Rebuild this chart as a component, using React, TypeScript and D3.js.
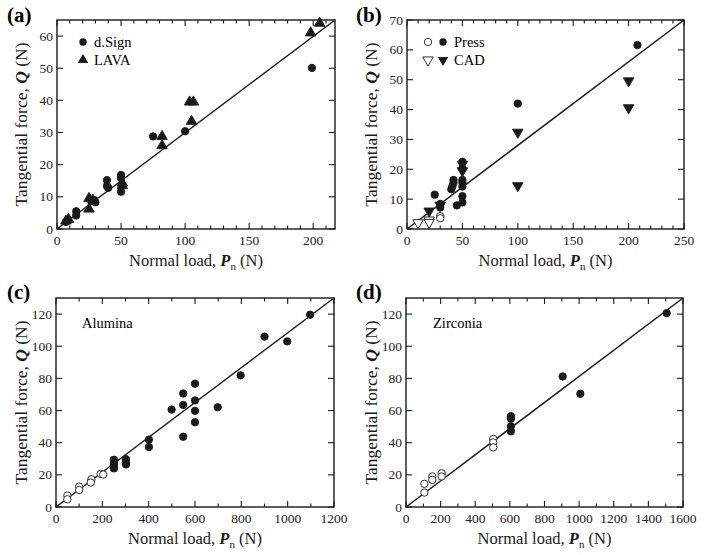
import React from 'react';
import * as d3 from 'd3';

type Pt = [number, number];

// Panel (a)
const aDSign: Pt[] = [[7,2.2],[15,5.5],[15,4.2],[27,8.8],[30,8.3],[29,9],[39,15.2],[39,13.4],[40,12.8],[50,16.8],[50,15.8],[50,11.6],[75,28.8],[100,30.4],[199,50.1]];
const aLava: Pt[] = [[7,2.5],[9,3],[25,9.5],[25,6.2],[28,9],[51,14.3],[51,13.5],[82,28.8],[82,25.9],[103.5,39.5],[106.5,39.5],[105,33.5],[198,61],[205,64]];
// Panel (b)
const bPressOpen: Pt[] = [[30,4.3],[30,3.6]];
const bPressFilled: Pt[] = [[25,11.5],[30,8.4],[30,7.2],[40,13.3],[41,14.4],[42,16.4],[42,15.5],[45,7.9],[50,22.5],[50,20.3],[50,16.4],[50,15.5],[50,14.2],[50,11],[50,8.9],[100,42],[208,61.6]];
const bCadOpen: Pt[] = [[10,2.1],[20,3],[20,2.2]];
const bCadFilled: Pt[] = [[20,6],[30,8],[50,21.7],[50,19.5],[100,32.4],[100,14.5],[200,49.6],[200,40.6]];
// Panel (c) Alumina
const cOpen: Pt[] = [[49,7.1],[49,4.8],[100,12.7],[100,10.6],[153,17.3],[150,15.2],[193,20.6],[204,20.2]];
const cFilled: Pt[] = [[250,29.4],[250,27.3],[250,25.6],[250,24],[302,29.8],[302,27.7],[302,26.5],[401,41.9],[401,37.3],[499,60.6],[549,70.6],[549,63.5],[549,43.7],[600,76.7],[600,66.3],[600,59.8],[600,52.7],[698,62],[797,81.9],[900,106],[998,103],[1097,119.6]];
// Panel (d) Zirconia
const dOpen: Pt[] = [[106,14.4],[106,9],[152,19],[152,16.9],[206,21],[206,19],[504,42.3],[504,40.2],[504,37.1]];
const dFilled: Pt[] = [[606,56.5],[606,55],[606,50.2],[606,47.1],[905,81.2],[1007,70.4],[1506,120.6]];

const aXLabels = [0, 50, 100, 150, 200];
const aYLabels = [0, 10, 20, 30, 40, 50, 60];
const bXLabels = [0, 50, 100, 150, 200, 250];
const bYLabels = [0, 10, 20, 30, 40, 50, 60, 70];
const cXLabels = [0, 200, 400, 600, 800, 1000, 1200];
const cdYLabels = [0, 20, 40, 60, 80, 100, 120];
const dXLabels = [0, 200, 400, 600, 800, 1000, 1200, 1400, 1600];

const FONT = "Liberation Serif, DejaVu Serif, serif";

type Series = { pts: Pt[]; shape: 'circle' | 'up' | 'down'; filled: boolean };

type PanelCfg = {
  tag: string;
  left: number; right: number; top: number; bottom: number;
  xMax: number; yMax: number;
  xMinorStep: number; xMajorStep: number;
  xLabels: number[]; yLabels: number[];
  series: Series[];
  legend?: React.ReactNode;
  tagX: number; tagY: number; yTitleX: number;
};

const triUp = d3.symbol().type(d3.symbolTriangle).size(48)() as string;
const INK = '#1a1a1a';

function Marker({ x, y, s }: { x: number; y: number; s: Series }) {
  const fill = s.filled ? INK : '#fff';
  if (s.shape === 'circle') return <circle cx={x} cy={y} r={3.7} fill={fill} stroke={INK} strokeWidth={0.9} />;
  const rot = s.shape === 'down' ? 180 : 0;
  return <path d={triUp} transform={`translate(${x},${y}) rotate(${rot})`} fill={fill} stroke={INK} strokeWidth={0.9} />;
}

function Panel({ p }: { p: PanelCfg }) {
  const x = d3.scaleLinear().domain([0, p.xMax]).range([p.left, p.right]);
  const y = d3.scaleLinear().domain([0, p.yMax]).range([p.bottom, p.top]);
  const xTicks = d3.range(0, p.xMax + 1e-6, p.xMinorStep);
  const yTicks = p.yLabels;
  const cy = (p.top + p.bottom) / 2;
  const cx = (p.left + p.right) / 2;
  return (
    <g>
      <text x={p.tagX} y={p.tagY} fontWeight="bold" fontSize={21}>{p.tag}</text>
      {xTicks.map((t, i) => {
        const major = Math.abs(t / p.xMajorStep - Math.round(t / p.xMajorStep)) < 1e-6;
        const len = major ? 6 : 3.5;
        return (
          <g key={'xt' + i}>
            <line x1={x(t)} x2={x(t)} y1={p.bottom} y2={p.bottom - len} stroke={INK} strokeWidth={1.1} />
            <line x1={x(t)} x2={x(t)} y1={p.top} y2={p.top + len} stroke={INK} strokeWidth={1.1} />
          </g>
        );
      })}
      {yTicks.map((t, i) => (
        <g key={'yt' + i}>
          <line x1={p.left} x2={p.left + 6} y1={y(t)} y2={y(t)} stroke={INK} strokeWidth={1.1} />
          <line x1={p.right} x2={p.right - 6} y1={y(t)} y2={y(t)} stroke={INK} strokeWidth={1.1} />
        </g>
      ))}
      <rect x={p.left} y={p.top} width={p.right - p.left} height={p.bottom - p.top} fill="none" stroke={INK} strokeWidth={1.4} />
      {p.xLabels.map((t, i) => (
        <text key={'xl' + i} x={x(t)} y={p.bottom + 16} textAnchor="middle" fontSize={13.5} fill="#222">{t}</text>
      ))}
      {p.yLabels.map((t, i) => (
        <text key={'yl' + i} x={p.left - 4} y={y(t) + 4.5} textAnchor="end" fontSize={13.5} fill="#222">{t}</text>
      ))}
      <line x1={x(0)} y1={y(0)} x2={x(p.xMax)} y2={y(p.yMax)} stroke={INK} strokeWidth={1.5} />
      {p.series.map((s, si) => s.pts.map((d, i) => <Marker key={si + '-' + i} x={x(d[0])} y={y(d[1])} s={s} />))}
      {p.legend}
      <text x={cx} y={p.bottom + 37} textAnchor="middle" fontSize={16.5} fill={INK}>
        Normal load, <tspan fontWeight="bold" fontStyle="italic">P</tspan><tspan fontSize={11} dy={4}>n</tspan><tspan dy={-4}> (N)</tspan>
      </text>
      <text transform={`translate(${p.yTitleX},${cy}) rotate(-90)`} textAnchor="middle" fontSize={17.5} fill={INK}>
        Tangential force, <tspan fontWeight="bold" fontStyle="italic">Q</tspan> (N)
      </text>
    </g>
  );
}

export default function App() {
  const legendA = (
    <g fontSize={14.5}>
      <circle cx={83} cy={42} r={3.7} fill={INK} />
      <text x={94} y={47}>d.Sign</text>
      <path d={triUp} transform="translate(83,60)" fill={INK} />
      <text x={94} y={65}>LAVA</text>
    </g>
  );
  const legendB = (
    <g fontSize={14.5}>
      <circle cx={428} cy={42} r={3.7} fill="#fff" stroke={INK} strokeWidth={0.9} />
      <circle cx={443} cy={42} r={3.7} fill={INK} />
      <text x={454} y={47}>Press</text>
      <path d={triUp} transform="translate(428,60) rotate(180)" fill="#fff" stroke={INK} strokeWidth={0.9} />
      <path d={triUp} transform="translate(443,60) rotate(180)" fill={INK} />
      <text x={454} y={65}>CAD</text>
    </g>
  );
  const panels: PanelCfg[] = [
    {
      tag: '(a)', left: 57, right: 335, top: 20, bottom: 229, xMax: 217, yMax: 65,
      xMinorStep: 10, xMajorStep: 50, xLabels: aXLabels, yLabels: aYLabels,
      series: [
        { pts: aDSign, shape: 'circle', filled: true },
        { pts: aLava, shape: 'up', filled: true },
      ],
      legend: legendA, tagX: 7, tagY: 22, yTitleX: 27,
    },
    {
      tag: '(b)', left: 407, right: 684, top: 20, bottom: 229, xMax: 250, yMax: 70,
      xMinorStep: 10, xMajorStep: 50, xLabels: bXLabels, yLabels: bYLabels,
      series: [
        { pts: bPressFilled, shape: 'circle', filled: true },
        { pts: bCadFilled, shape: 'down', filled: true },
        { pts: bPressOpen, shape: 'circle', filled: false },
        { pts: bCadOpen, shape: 'down', filled: false },
      ],
      legend: legendB, tagX: 356, tagY: 22, yTitleX: 377,
    },
    {
      tag: '(c)', left: 56, right: 334, top: 298, bottom: 507, xMax: 1200, yMax: 130,
      xMinorStep: 100, xMajorStep: 200, xLabels: cXLabels, yLabels: cdYLabels,
      series: [
        { pts: cFilled, shape: 'circle', filled: true },
        { pts: cOpen, shape: 'circle', filled: false },
      ],
      legend: <text x={82} y={328} fontSize={14.5}>Alumina</text>,
      tagX: 7, tagY: 299, yTitleX: 27,
    },
    {
      tag: '(d)', left: 406, right: 683, top: 298, bottom: 507, xMax: 1600, yMax: 130,
      xMinorStep: 100, xMajorStep: 200, xLabels: dXLabels, yLabels: cdYLabels,
      series: [
        { pts: dFilled, shape: 'circle', filled: true },
        { pts: dOpen, shape: 'circle', filled: false },
      ],
      legend: <text x={433} y={328} fontSize={14.5}>Zirconia</text>,
      tagX: 356, tagY: 299, yTitleX: 377,
    },
  ];
  return (
    <svg width={704} height={555} fontFamily={FONT}
      style={{ position: 'absolute', left: 0, top: 0, background: '#fff', fontFamily: FONT }}>
      <rect width={704} height={555} fill="#fff" />
      {panels.map((p) => <Panel key={p.tag} p={p} />)}
    </svg>
  );
}
